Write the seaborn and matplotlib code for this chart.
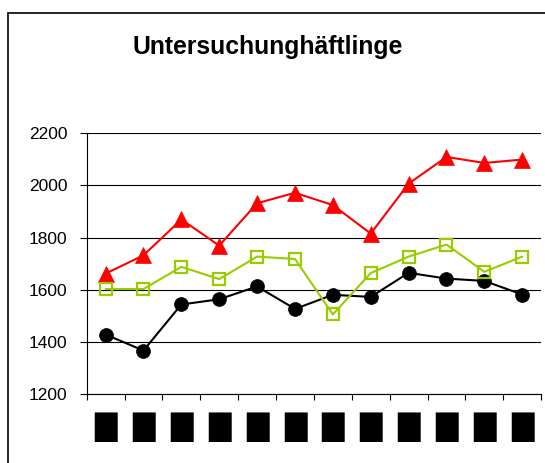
import numpy as np
import pandas as pd
import matplotlib.pyplot as plt
import seaborn as sns
from matplotlib.patches import Rectangle

# values (12 periods, labels are blacked out)
periods = list(range(12))
period_labels = ["\u2588"] * 12
red_values = [1662, 1732, 1869, 1769, 1931, 1971, 1924, 1815, 2006, 2108, 2085, 2098]
green_values = [1603, 1603, 1688, 1641, 1727, 1718, 1506, 1664, 1727, 1773, 1669, 1727]
black_values = [1429, 1368, 1544, 1564, 1613, 1527, 1581, 1573, 1665, 1643, 1634, 1582]
y_ticks = [1200, 1400, 1600, 1800, 2000, 2200]

sns.set_style("white")
plt.rcParams['font.family'] = ['Liberation Sans', 'DejaVu Sans']
plt.rcParams['text.color'] = 'black'
plt.rcParams['xtick.color'] = 'black'
plt.rcParams['ytick.color'] = 'black'

fig = plt.figure(figsize=(5.45, 4.63), dpi=100)
ax = fig.add_axes([0.159, 0.148, 0.834, 0.565])

# red triangles
sns.lineplot(x=periods, y=red_values, ax=ax, color='#FF0000', lw=1.5,
             marker='^', markersize=11, markerfacecolor='#FF0000',
             markeredgecolor='#FF0000', markeredgewidth=0.5)
# black circles
sns.lineplot(x=periods, y=black_values, ax=ax, color='black', lw=1.5,
             marker='o', markersize=10, markerfacecolor='black',
             markeredgecolor='black', markeredgewidth=0.5)
# green open squares
sns.lineplot(x=periods, y=green_values, ax=ax, color='#99CC00', lw=1.5,
             marker='s', markersize=9, markerfacecolor='none',
             markeredgecolor='#99CC00', markeredgewidth=1.6)

ax.set_ylim(1200, 2200)
ax.set_xlim(-0.5, 11.5)
ax.set_yticks(y_ticks)
ax.set_yticklabels([str(v) for v in y_ticks], fontsize=12.5, color='black')
ax.yaxis.grid(True, color='black', lw=0.8)
ax.set_axisbelow(True)

# ticks between categories, labels at the centres
ax.set_xticks(np.arange(-0.5, 12, 1))
ax.set_xticklabels([])
ax.set_xticks(periods, minor=True)
ax.set_xticklabels(period_labels, minor=True, fontsize=21, family='DejaVu Sans',
                   color='black')
ax.tick_params(axis='x', which='major', direction='out', length=4, width=0.8,
               color='black', bottom=True)
ax.tick_params(axis='x', which='minor', length=0, pad=13)
ax.tick_params(axis='y', direction='out', length=5, width=0.8, color='black',
               left=True, pad=9)

for side in ['top', 'right']:
    ax.spines[side].set_visible(False)
for side in ['left', 'bottom']:
    ax.spines[side].set_color('black')
    ax.spines[side].set_linewidth(0.8)

ax.set_xlabel('')
ax.set_ylabel('')

fig.text(0.492, 0.899, 'Untersuchunghäftlinge', ha='center', va='center',
         fontsize=17.8, fontweight='bold', color='black')

# outer chart frame (runs off the right and bottom edge)
fig.patches.append(Rectangle((0.0138, -0.05), 1.2, 1.0226, transform=fig.transFigure,
                             fill=False, edgecolor='black', lw=1.2))

fig.savefig('out.png', dpi=100, facecolor='white')
